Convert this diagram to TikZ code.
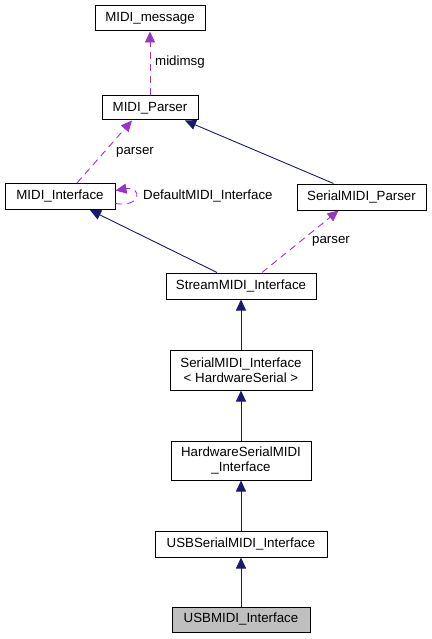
\documentclass[tikz,border=0pt]{standalone}
\usepackage{fontspec}
\setmainfont{Liberation Sans}
\usetikzlibrary{arrows.meta}
\definecolor{inh}{HTML}{191970}
\definecolor{usg}{HTML}{9A32CD}
\definecolor{cur}{HTML}{BFBFBF}
\begin{document}
\begin{tikzpicture}[x=1pt,y=-1pt,
  cls/.style={draw=black,line width=1pt,inner sep=0pt,align=center,font=\fontsize{13.3}{15}\selectfont},
  lbl/.style={inner sep=0pt,anchor=west,font=\fontsize{13.3}{15}\selectfont},
  inhline/.style={draw=inh,line width=0.9pt,-{Triangle[length=11pt,width=10pt,fill=inh]}},
  usgline/.style={draw=usg,line width=0.9pt,dash pattern=on 7pt off 5pt,-{Triangle[length=11pt,width=10pt,fill=usg]}}]
\useasboundingbox (0,0) rectangle (431,639);
\node[cls,minimum width=110pt,minimum height=25pt] (msg) at (150,18.5) {MIDI\_message};
\node[cls,minimum width=96pt,minimum height=24pt] (parser) at (150,108) {MIDI\_Parser};
\node[cls,minimum width=110pt,minimum height=26pt] (mi) at (60,196.5) {MIDI\_Interface};
\node[cls,minimum width=129pt,minimum height=26pt] (smp) at (361.5,197) {SerialMIDI\_Parser};
\node[cls,minimum width=150pt,minimum height=26pt] (stream) at (241,286) {StreamMIDI\_Interface};
\node[cls,minimum width=142pt,minimum height=40pt] (smi) at (241,370) {SerialMIDI\_Interface\\< HardwareSerial >};
\node[cls,minimum width=140pt,minimum height=39pt] (hw) at (241,460.5) {HardwareSerialMIDI\\\_Interface};
\node[cls,minimum width=172pt,minimum height=26pt] (usbs) at (241,544) {USBSerialMIDI\_Interface};
\node[cls,fill=cur,minimum width=138pt,minimum height=25pt] (usb) at (241,619.5) {USBMIDI\_Interface};
% usage (dashed)
\draw[usgline] (parser.north) -- (msg.south);
\node[lbl] (l1) at (155,62.5) {midimsg};
\draw[usgline] ([xshift=17pt]mi.north) -- ([xshift=-18pt]parser.south);
\node[lbl] (l2) at (116,152.5) {parser};
\draw[usgline] ([yshift=-7pt]mi.east) .. controls (142,208) and (142,186) .. ([yshift=6pt]mi.east);
\node[lbl] (l3) at (143,196.5) {DefaultMIDI\_Interface};
\draw[usgline] ([xshift=21pt]stream.north) -- ([xshift=-23pt]smp.south);
\node[lbl] (l4) at (312,241.5) {parser};
% inheritance
\draw[inhline] ([xshift=-28pt]smp.north) -- ([xshift=35pt]parser.south);
\draw[inhline] ([xshift=-24pt]stream.north) -- ([xshift=30pt]mi.south);
\draw[inhline] (smi.north) -- (stream.south);
\draw[inhline] (hw.north) -- (smi.south);
\draw[inhline] (usbs.north) -- (hw.south);
\draw[inhline] (usb.north) -- (usbs.south);
\end{tikzpicture}
\end{document}
